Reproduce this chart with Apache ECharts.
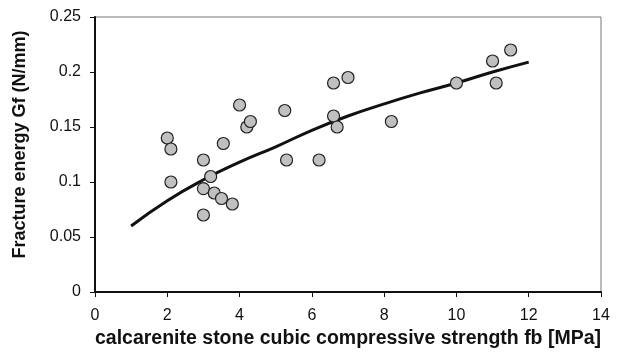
<!DOCTYPE html>
<html>
<head>
<meta charset="utf-8">
<script src="https://cdn.jsdelivr.net/npm/echarts@6/dist/echarts.min.js"></script>
<style>
  html, body { margin: 0; padding: 0; background: #fff; }
  #chart { width: 618px; height: 354px; }
</style>
</head>
<body>
<div id="chart"></div>
<script>
// Measured specimens: compressive strength fb [MPa] and fracture energy Gf [N/mm]
const strengthFb = [2.0, 2.1, 2.1, 3.0, 3.2, 3.0, 3.3, 3.5, 3.8, 3.0, 3.55, 4.0, 4.2, 4.3,
                    5.25, 5.3, 6.2, 6.6, 6.6, 6.7, 7.0, 8.2, 10.0, 11.0, 11.1, 11.5];
const energyGf   = [0.14, 0.13, 0.10, 0.12, 0.105, 0.094, 0.09, 0.085, 0.08, 0.07, 0.135, 0.17, 0.15, 0.155,
                    0.165, 0.12, 0.12, 0.19, 0.16, 0.15, 0.195, 0.155, 0.19, 0.21, 0.19, 0.22];

// Fitted trend curve
const trendFb = [1, 2, 3, 4, 5, 6, 7, 8, 9, 10, 11, 12];
const trendGf = [0.060, 0.083, 0.102, 0.118, 0.132, 0.147, 0.160, 0.171, 0.181, 0.190, 0.200, 0.209];

const points = strengthFb.map((x, i) => [x, energyGf[i]]);
const trend = trendFb.map((x, i) => [x, trendGf[i]]);

const chart = echarts.init(document.getElementById('chart'));
const font = 'Liberation Sans';

chart.setOption({
  animation: false,
  grid: { left: 95, right: 17, top: 17, bottom: 62, show: true, borderColor: '#777', borderWidth: 1,
          containLabel: false, outerBoundsMode: 'none' },
  xAxis: {
    type: 'value', min: 0, max: 14, interval: 2,
    name: 'calcarenite stone cubic compressive strength fb [MPa]',
    nameLocation: 'middle', nameGap: 35,
    nameTextStyle: { fontFamily: font, fontSize: 19.5, fontWeight: 'bold', color: '#111' },
    axisLine: { lineStyle: { color: '#111', width: 2 } },
    axisTick: { show: true, inside: false, length: 5, lineStyle: { color: '#111', width: 1 } },
    axisLabel: { fontFamily: font, fontSize: 16, color: '#111', margin: 16 },
    splitLine: { show: false }
  },
  yAxis: {
    type: 'value', min: 0, max: 0.25, interval: 0.05,
    name: 'Fracture energy Gf (N/mm)',
    nameLocation: 'middle', nameGap: 66,
    nameTextStyle: { fontFamily: font, fontSize: 18, fontWeight: 'bold', color: '#111',
                     padding: [0, 0, 0, 20] },
    axisLine: { show: true, lineStyle: { color: '#111', width: 2 } },
    axisTick: { show: true, inside: false, length: 5, lineStyle: { color: '#111', width: 1 } },
    axisLabel: { fontFamily: font, fontSize: 16, color: '#111', margin: 14,
                 formatter: v => String(Math.round(v * 100) / 100) },
    splitLine: { show: false }
  },
  series: [
    {
      type: 'line', data: trend, smooth: true, symbol: 'none',
      lineStyle: { color: '#111', width: 3 }, z: 2
    },
    {
      type: 'scatter', data: points, symbol: 'circle', symbolSize: 12,
      itemStyle: { color: '#c0c0c0', borderColor: '#222', borderWidth: 1.2, opacity: 1 }, z: 3
    }
  ]
});
</script>
</body>
</html>
